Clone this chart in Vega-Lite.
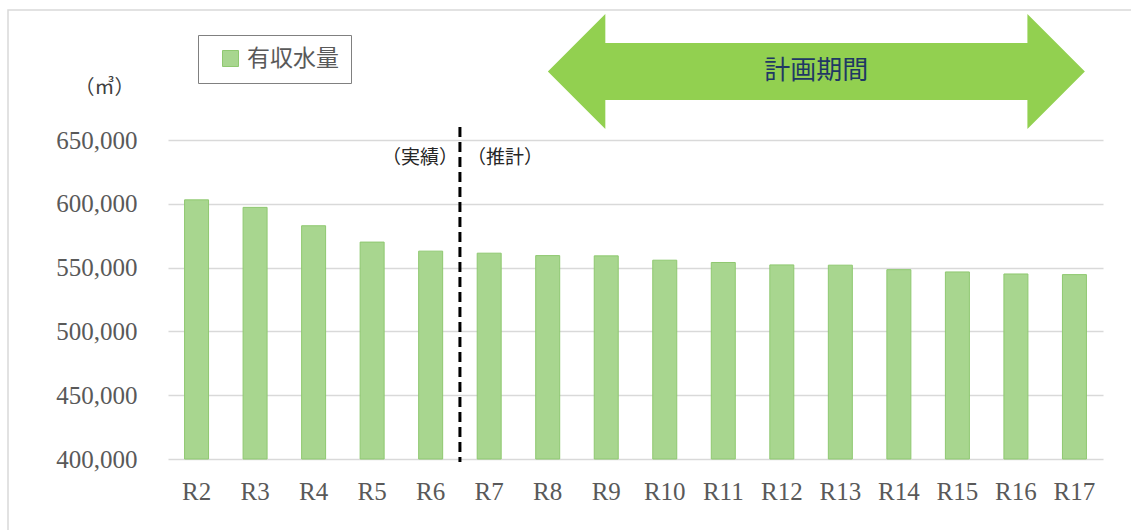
{
  "$schema": "https://vega.github.io/schema/vega-lite/v6.json",
  "width": 1124,
  "height": 521,
  "autosize": "none",
  "padding": {"left": 8, "top": 10, "right": -1, "bottom": -1},
  "background": "white",
  "view": {"stroke": "#d9d9d9", "strokeWidth": 1.5},
  "config": {"font": "Liberation Serif"},
  "datasets": {
    "bars": [
      {"cat": "R2", "value": 603100},
      {"cat": "R3", "value": 597200},
      {"cat": "R4", "value": 582800},
      {"cat": "R5", "value": 570000},
      {"cat": "R6", "value": 562900},
      {"cat": "R7", "value": 561300},
      {"cat": "R8", "value": 559400},
      {"cat": "R9", "value": 559200},
      {"cat": "R10", "value": 555800},
      {"cat": "R11", "value": 554000},
      {"cat": "R12", "value": 552100},
      {"cat": "R13", "value": 551900},
      {"cat": "R14", "value": 548400},
      {"cat": "R15", "value": 546600},
      {"cat": "R16", "value": 545000},
      {"cat": "R17", "value": 544500}
    ],
    "divider": [{"cat": "R6", "top": 660200, "bottom": 397600}],
    "actual": [{"cat": "R6", "y": 635900, "label": "（実績）"}],
    "forecast": [{"cat": "R6", "y": 635900, "label": "（推計）"}],
    "period": [{"cat": "R12", "y": 703700, "label": "計画期間"}]
  },
  "layer": [
    {
      "data": {"name": "bars"},
      "mark": {"type": "bar", "stroke": "#8fc870", "strokeWidth": 1},
      "encoding": {
        "x": {
          "field": "cat",
          "type": "nominal",
          "sort": null,
          "scale": {"range": [160, 1095], "paddingInner": 0.59, "paddingOuter": 0.283},
          "axis": {
            "orient": "bottom",
            "offset": -72,
            "title": null,
            "domain": false,
            "ticks": false,
            "grid": false,
            "labelAngle": 0,
            "labelFontSize": 25,
            "labelColor": "#595959",
            "labelPadding": 20
          }
        },
        "y": {
          "field": "value",
          "type": "quantitative",
          "scale": {"domain": [400000, 650000], "range": [449, 130], "zero": false, "nice": false},
          "axis": {
            "orient": "left",
            "offset": -160,
            "values": [400000, 450000, 500000, 550000, 600000, 650000],
            "format": ",.0f",
            "domain": false,
            "ticks": false,
            "grid": true,
            "gridColor": "#d9d9d9",
            "gridWidth": 1.5,
            "labelFontSize": 25,
            "labelColor": "#595959",
            "labelPadding": 31,
            "title": "（㎥）",
            "titleFont": "Noto Sans CJK JP",
            "titleFontSize": 20,
            "titleFontWeight": "normal",
            "titleColor": "#404040",
            "titleAngle": 0,
            "titleAlign": "center",
            "titleBaseline": "middle",
            "titleX": -64,
            "titleY": 77
          }
        },
        "y2": {"datum": 400000},
        "color": {
          "datum": "有収水量",
          "scale": {"range": ["#a8d68f"]},
          "legend": {
            "orient": "none",
            "legendX": 190,
            "legendY": 25,
            "title": null,
            "strokeColor": "#808080",
            "fillColor": "white",
            "padding": 12,
            "symbolType": "square",
            "symbolSize": 256,
            "symbolOffset": 9,
            "symbolStrokeColor": "#8fc870",
            "symbolStrokeWidth": 1,
            "labelOffset": 5,
            "labelFont": "Noto Sans CJK JP",
            "labelFontSize": 23,
            "labelColor": "#595959"
          }
        }
      }
    },
    {
      "data": {"name": "divider"},
      "mark": {"type": "rule", "color": "black", "strokeWidth": 3, "strokeDash": [10, 5]},
      "encoding": {
        "x": {"field": "cat", "type": "nominal", "sort": null, "bandPosition": 1.72},
        "y": {"field": "top", "type": "quantitative"},
        "y2": {"field": "bottom"}
      }
    },
    {
      "data": {"name": "actual"},
      "mark": {"type": "text", "align": "right", "baseline": "middle", "dx": -2, "font": "Noto Sans CJK JP", "fontSize": 19, "color": "#262626"},
      "encoding": {
        "x": {"field": "cat", "type": "nominal", "sort": null, "bandPosition": 1.72},
        "y": {"field": "y", "type": "quantitative"},
        "text": {"field": "label"}
      }
    },
    {
      "data": {"name": "forecast"},
      "mark": {"type": "text", "align": "left", "baseline": "middle", "dx": 7, "font": "Noto Sans CJK JP", "fontSize": 19, "color": "#262626"},
      "encoding": {
        "x": {"field": "cat", "type": "nominal", "sort": null, "bandPosition": 1.72},
        "y": {"field": "y", "type": "quantitative"},
        "text": {"field": "label"}
      }
    },
    {
      "data": {"name": "period"},
      "mark": {
        "type": "point",
        "filled": true,
        "opacity": 1,
        "color": "#92d050",
        "strokeWidth": 0,
        "size": 288369,
        "shape": "M -1 0 L -0.786 -0.214 L -0.786 -0.106 L 0.786 -0.106 L 0.786 -0.214 L 1 0 L 0.786 0.214 L 0.786 0.106 L -0.786 0.106 L -0.786 0.214 Z"
      },
      "encoding": {
        "x": {"field": "cat", "type": "nominal", "sort": null, "bandPosition": 1.94},
        "y": {"field": "y", "type": "quantitative"}
      }
    },
    {
      "data": {"name": "period"},
      "mark": {"type": "text", "align": "center", "baseline": "middle", "font": "Noto Sans CJK JP", "fontSize": 26, "color": "#1f3864"},
      "encoding": {
        "x": {"field": "cat", "type": "nominal", "sort": null, "bandPosition": 1.94},
        "y": {"field": "y", "type": "quantitative"},
        "text": {"field": "label"}
      }
    }
  ]
}
